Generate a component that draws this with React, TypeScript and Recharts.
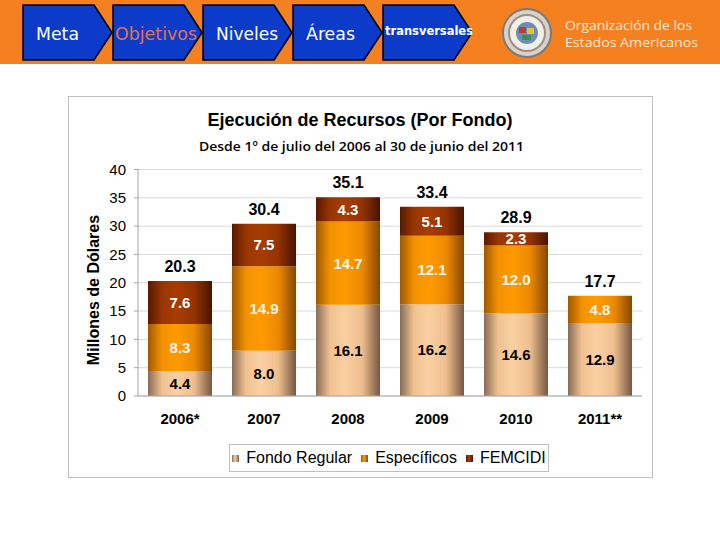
import React from "react";
import { ComposedChart, Bar, Line, XAxis, YAxis, CartesianGrid, LabelList, Legend } from "recharts";

const years = ["2006*", "2007", "2008", "2009", "2010", "2011**"];
const fondoRegular = [4.4, 8.0, 16.1, 16.2, 14.6, 12.9];
const especificos = [8.3, 14.9, 14.7, 12.1, 12.0, 4.8];
const femcidi = [7.6, 7.5, 4.3, 5.1, 2.3, 0];
const totals = [20.3, 30.4, 35.1, 33.4, 28.9, 17.7];
const yTicks = [0, 5, 10, 15, 20, 25, 30, 35, 40];
const navItems = ["Meta", "Objetivos", "Niveles", "Áreas", "transversales"];

const data = years.map((year, i) => ({
  year,
  regular: fondoRegular[i],
  especificos: especificos[i],
  femcidi: femcidi[i],
  total: totals[i],
}));

const FONT = "'Liberation Sans', Arial, sans-serif";

const legendItems = [
  { label: "Fondo Regular", bg: "linear-gradient(90deg,#8e7058,#fad0a2 45%,#7a5c46)" },
  { label: "Específicos", bg: "linear-gradient(90deg,#a45a00,#ff9a00 45%,#8a4a00)" },
  { label: "FEMCIDI", bg: "linear-gradient(90deg,#5e1a00,#a83c00 45%,#4a1400)" },
];

const fmt = (v: any) => (v ? Number(v).toFixed(1) : "");

function renderLegend() {
  return (
    <div
      style={{
        width: 320,
        height: 28,
        boxSizing: "border-box",
        border: "1px solid #bfbfbf",
        display: "flex",
        alignItems: "center",
        justifyContent: "center",
        gap: 9,
        fontFamily: FONT,
        fontSize: 16,
        color: "#000",
        background: "#fff",
      }}
    >
      {legendItems.map((it) => (
        <span key={it.label} style={{ display: "flex", alignItems: "center" }}>
          <span style={{ width: 7, height: 7, background: it.bg, marginRight: 7 }} />
          {it.label}
        </span>
      ))}
    </div>
  );
}

function Banner() {
  return (
    <svg width={720} height={64} style={{ position: "absolute", left: 0, top: 0 }}>
      <rect x={0} y={0} width={720} height={64} fill="#f4801f" />
      {navItems.map((t, i) => {
        const x0 = 23 + i * 90;
        const small = t === "transversales";
        return (
          <g key={t}>
            <path
              d={`M${x0},5 L${x0 + 71},5 L${x0 + 89},32.5 L${x0 + 71},60 L${x0},60 Z`}
              fill="#0c3bc9"
              stroke="#000"
              strokeWidth={1.6}
            />
            <text
              x={small ? x0 + 2 : i === 1 ? x0 + 2 : x0 + 13}
              y={small ? 35 : 40}
              fontFamily="'DejaVu Sans Condensed', 'DejaVu Sans', sans-serif"
              fontSize={small ? 13 : 18}
              fontWeight={small ? "bold" : "normal"}
              fill={i === 1 ? "#e0704e" : "#fff"}
              textLength={[43, 82, 62, 49, 88][i]}
              lengthAdjust="spacingAndGlyphs"
            >
              {t}
            </text>
          </g>
        );
      })}
      <circle cx={527} cy={33} r={24} fill="#d9d2c8" stroke="#7a7a7a" strokeWidth={2} />
      <circle cx={527} cy={33} r={18} fill="#f3efe8" stroke="#9a8f80" strokeWidth={2} />
      <circle cx={527} cy={33} r={11} fill="#6c8fb8" />
      <rect x={519} y={27} width={7} height={6} fill="#c23b2e" />
      <rect x={527} y={28} width={7} height={6} fill="#e8c23a" />
      <rect x={522} y={35} width={9} height={5} fill="#3f8f4a" />
      <text x={565} y={30} fontFamily="'Open Sans', sans-serif" fontSize={13} fill="#fde9d6" textLength={127} lengthAdjust="spacingAndGlyphs">
        Organización de los
      </text>
      <text x={565} y={47} fontFamily="'Open Sans', sans-serif" fontSize={13} fill="#fde9d6" textLength={133} lengthAdjust="spacingAndGlyphs">
        Estados Americanos
      </text>
    </svg>
  );
}

export default function App() {
  return (
    <div style={{ position: "absolute", left: 0, top: 0, width: 720, height: 540, background: "#fff" }}>
      <Banner />
      <div
        style={{
          position: "absolute",
          left: 68,
          top: 96,
          width: 585,
          height: 382,
          boxSizing: "border-box",
          border: "1px solid #bfbfbf",
        }}
      />
      <svg width={720} height={160} style={{ position: "absolute", left: 0, top: 96 }}>
        <text x={360} y={30} textAnchor="middle" fontFamily={FONT} fontWeight="bold" fontSize={18} fill="#000">
          Ejecución de Recursos (Por Fondo)
        </text>
        <text
          x={361.5}
          y={55}
          textAnchor="middle"
          fontFamily="'Open Sans', sans-serif"
          fontWeight={600}
          fontSize={13}
          fill="#000"
          textLength={325}
          lengthAdjust="spacingAndGlyphs"
        >
          Desde 1º de julio del 2006 al 30 de junio del 2011
        </text>
      </svg>
      <svg width={40} height={200} style={{ position: "absolute", left: 73, top: 190 }}>
        <text
          x={0}
          y={0}
          transform="translate(20,100) rotate(-90)"
          textAnchor="middle"
          dominantBaseline="central"
          fontFamily={FONT}
          fontWeight="bold"
          fontSize={16}
          fill="#000"
        >
          Millones de Dólares
        </text>
      </svg>
      <div style={{ position: "absolute", left: 68, top: 96 }}>
        <ComposedChart
          width={584}
          height={381}
          data={data}
          margin={{ top: 73.5, right: 10, bottom: 51, left: 20 }}
          barSize={64}
        >
          <defs>
            <linearGradient id="gRegular" x1="0" y1="0" x2="1" y2="0">
              <stop offset="0%" stopColor="#8a6c55" />
              <stop offset="22%" stopColor="#f0c292" />
              <stop offset="45%" stopColor="#fad0a2" />
              <stop offset="72%" stopColor="#eebe8e" />
              <stop offset="100%" stopColor="#765842" />
            </linearGradient>
            <linearGradient id="gEsp" x1="0" y1="0" x2="1" y2="0">
              <stop offset="0%" stopColor="#a05800" />
              <stop offset="22%" stopColor="#f29200" />
              <stop offset="45%" stopColor="#ff9a00" />
              <stop offset="72%" stopColor="#ec8a00" />
              <stop offset="100%" stopColor="#864800" />
            </linearGradient>
            <linearGradient id="gFem" x1="0" y1="0" x2="1" y2="0">
              <stop offset="0%" stopColor="#5a1800" />
              <stop offset="22%" stopColor="#983600" />
              <stop offset="45%" stopColor="#a83c00" />
              <stop offset="72%" stopColor="#943300" />
              <stop offset="100%" stopColor="#481300" />
            </linearGradient>
          </defs>
          <CartesianGrid vertical={false} stroke="#d9d9d9" />
          <XAxis
            dataKey="year"
            height={30}
            tickLine={false}
            tickSize={6}
            tickMargin={11}
            axisLine={{ stroke: "#a6a6a6" }}
            tick={{ fill: "#000", fontSize: 15, fontWeight: "bold", fontFamily: FONT }}
          />
          <YAxis
            width={50}
            domain={[0, 40]}
            ticks={yTicks}
            interval={0}
            tickSize={4}
            tickMargin={8}
            axisLine={{ stroke: "#a6a6a6" }}
            tickLine={{ stroke: "#a6a6a6" }}
            tick={{ fill: "#000", fontSize: 15, fontFamily: FONT }}
          />
          <Legend
            verticalAlign="middle"
            align="center"
            layout="horizontal"
            content={renderLegend}
            wrapperStyle={{ left: 161, top: 348, width: 320, height: 28 }}
          />
          <Bar dataKey="regular" name="Fondo Regular" stackId="a" fill="url(#gRegular)" isAnimationActive={false}>
            <LabelList
              dataKey="regular"
              position="center"
              formatter={fmt}
              fill="#000"
              fontSize={15}
              fontWeight="bold"
              fontFamily={FONT}
            />
          </Bar>
          <Bar dataKey="especificos" name="Específicos" stackId="a" fill="url(#gEsp)" isAnimationActive={false}>
            <LabelList
              dataKey="especificos"
              position="center"
              formatter={fmt}
              fill="#fff6e6"
              fontSize={15}
              fontWeight="bold"
              fontFamily={FONT}
            />
          </Bar>
          <Bar dataKey="femcidi" name="FEMCIDI" stackId="a" fill="url(#gFem)" isAnimationActive={false}>
            <LabelList
              dataKey="femcidi"
              position="center"
              formatter={fmt}
              fill="#fff"
              fontSize={15}
              fontWeight="bold"
              fontFamily={FONT}
            />
          </Bar>
          <Line
            dataKey="total"
            name="Total"
            stroke="none"
            dot={false}
            activeDot={false}
            legendType="none"
            isAnimationActive={false}
          >
            <LabelList
              dataKey="total"
              position="top"
              offset={9}
              formatter={fmt}
              fill="#000"
              fontSize={16}
              fontWeight="bold"
              fontFamily={FONT}
            />
          </Line>
        </ComposedChart>
      </div>
    </div>
  );
}
